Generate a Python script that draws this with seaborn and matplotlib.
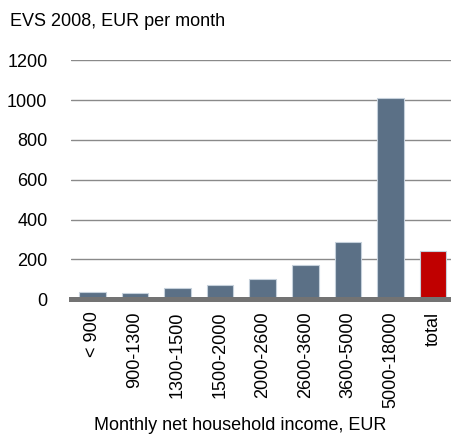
import pandas as pd
import numpy as np
import matplotlib
matplotlib.use("Agg")
import matplotlib.pyplot as plt
import seaborn as sns

# Data
income_groups = ["< 900", "900-1300", "1300-1500", "1500-2000", "2000-2600",
                 "2600-3600", "3600-5000", "5000-18000", "total"]
eur_per_month = [37, 29, 57, 70, 101, 173, 287, 1009, 242]
bar_colors = ["#5b7086"] * 8 + ["#c00000"]

df = pd.DataFrame({"group": income_groups, "value": eur_per_month})

sns.set_style("white")
plt.rcParams["font.family"] = ["Liberation Sans", "DejaVu Sans"]
plt.rcParams["text.color"] = "black"
plt.rcParams["xtick.color"] = "black"
plt.rcParams["ytick.color"] = "black"
plt.rcParams["axes.labelcolor"] = "black"

fig = plt.figure(figsize=(4.51, 4.36), dpi=100)
ax = fig.add_axes([71 / 451, 137 / 436, 380 / 451, (299 - 60.5) / 436])

sns.barplot(data=df, x="group", y="value", hue="group", palette=bar_colors,
            legend=False, width=0.625, ax=ax, edgecolor="#c5d0db",
            linewidth=0.8, saturation=1, zorder=3)

ax.set_xlim(-0.5, 8.42)
ax.set_ylim(0, 1200)
ax.set_yticks(range(0, 1201, 200))
ax.yaxis.grid(True, color="#8a8a8a", linewidth=1)
ax.set_axisbelow(True)

for s in ["top", "right", "left"]:
    ax.spines[s].set_visible(False)
ax.spines["bottom"].set_color("#737373")
ax.spines["bottom"].set_linewidth(3.6)
ax.spines["bottom"].set_zorder(4)

ax.tick_params(axis="y", length=0, pad=17, labelsize=13)
ax.tick_params(axis="x", length=0, pad=9, labelsize=13, rotation=90)
for lbl in ax.get_xticklabels():
    lbl.set_verticalalignment("top")

ax.set_xlabel("Monthly net household income, EUR", fontsize=13, va="center")
ax.xaxis.set_label_coords((240 - 71) / 380, -(425 - 299) / (299 - 60.5))
ax.set_ylabel("")

fig.text(10 / 451, 1 - 22 / 436, "EVS 2008, EUR per month", fontsize=13,
         ha="left", va="center")

fig.savefig("out.png", dpi=100)
